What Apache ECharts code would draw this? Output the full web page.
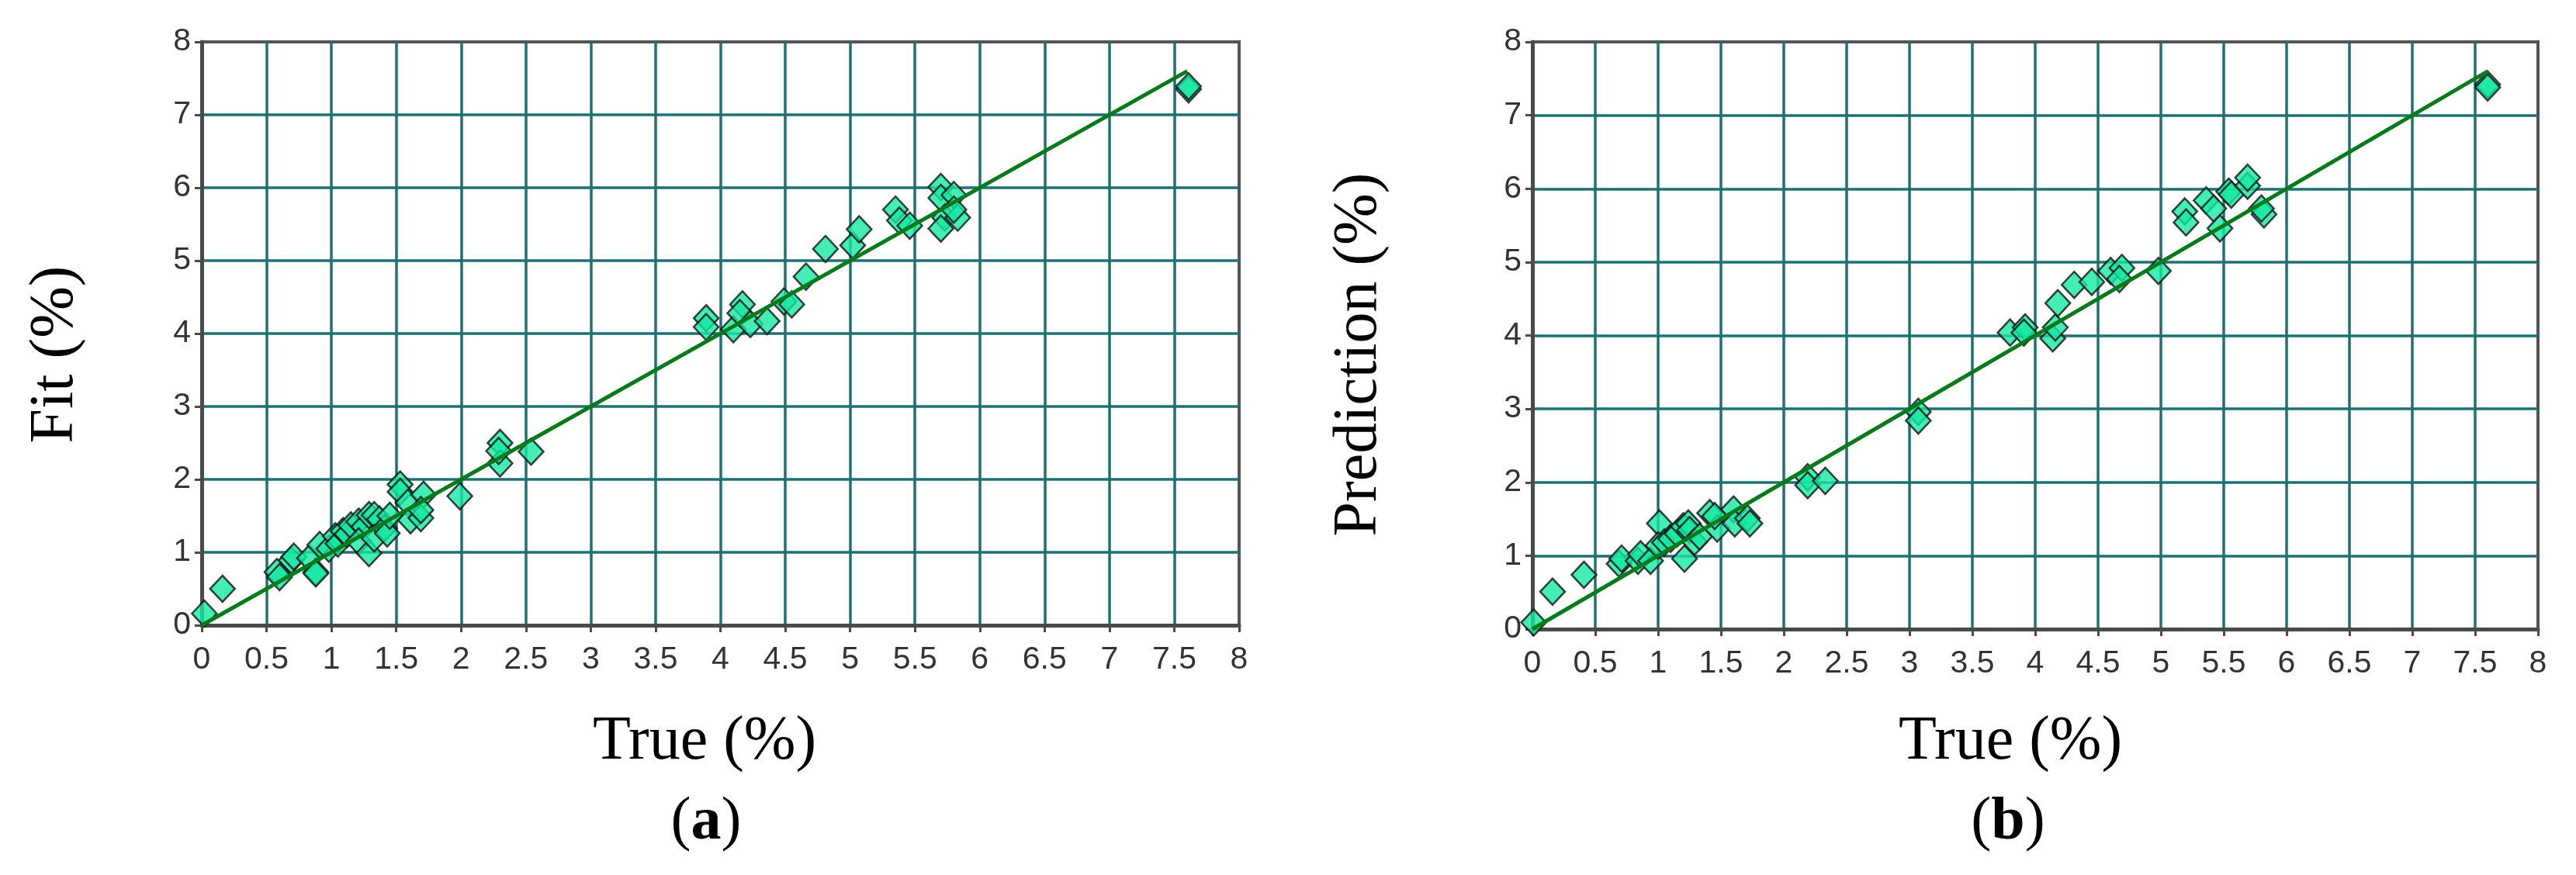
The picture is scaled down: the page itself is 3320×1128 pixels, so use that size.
<!DOCTYPE html>
<html>
<head>
<meta charset="utf-8">
<script src="https://cdn.jsdelivr.net/npm/echarts@6/dist/echarts.min.js"></script>
<style>
  html, body { margin: 0; padding: 0; background: #fff; }
  #main { width: 3320px; height: 1128px; }
</style>
</head>
<body>
<div id="main"></div>
<script>
// (a) calibration: true vs fitted
var aTrue = [0.02, 0.16, 0.58, 0.60, 0.69, 0.71, 0.83, 0.88, 0.88, 0.91, 0.98, 1.03, 1.05, 1.09, 1.12, 1.15, 1.21, 1.25, 1.29, 1.33, 1.37,
	1.21, 1.29, 1.33, 1.41, 1.43, 1.45, 1.53, 1.53, 1.59, 1.61, 1.69, 1.71, 1.69, 1.99, 2.30, 2.30, 2.29, 2.54,
	3.89, 3.89, 4.10, 4.17, 4.15, 4.23, 4.36, 4.49, 4.55, 4.66, 4.81, 5.02, 5.07, 5.35, 5.38, 5.46,
	5.70, 5.70, 5.73, 5.70, 5.80, 5.83, 5.80, 7.61, 7.61];
var aFit = [0.16, 0.50, 0.73, 0.66, 0.89, 0.94, 0.92, 0.73, 0.71, 1.10, 1.05, 1.22, 1.12, 1.29, 1.25, 1.37, 1.42, 1.35, 1.51, 1.51, 1.45,
	1.15, 0.99, 1.19, 1.33, 1.26, 1.50, 1.93, 1.83, 1.68, 1.44, 1.47, 1.79, 1.58, 1.77, 2.50, 2.22, 2.39, 2.38,
	4.21, 4.09, 4.06, 4.40, 4.28, 4.13, 4.17, 4.44, 4.40, 4.78, 5.16, 5.21, 5.43, 5.70, 5.55, 5.48,
	6.01, 5.86, 5.59, 5.44, 5.90, 5.59, 5.70, 7.35, 7.39];
// (b) validation: true vs predicted
var bTrue = [0.01, 0.16, 0.41, 0.69, 0.71, 0.84, 0.86, 0.94, 1.01, 1.00, 1.05, 1.10, 1.15, 1.20, 1.24, 1.25, 1.21, 1.29, 1.33,
	1.41, 1.47, 1.45, 1.60, 1.61, 1.71, 1.73, 2.19, 2.19, 2.33,
	3.07, 3.07, 3.80, 3.92, 3.91, 4.14, 4.16, 4.18, 4.31, 4.45, 4.60, 4.69, 4.67, 4.98,
	5.19, 5.20, 5.36, 5.42, 5.47, 5.54, 5.56, 5.69, 5.69, 5.82, 5.80, 7.60, 7.60];
var bPred = [0.09, 0.51, 0.74, 0.89, 0.96, 0.93, 1.02, 0.93, 1.44, 1.14, 1.18, 1.23, 1.30, 1.40, 1.44, 1.35, 0.96, 1.19, 1.26,
	1.58, 1.37, 1.54, 1.63, 1.44, 1.51, 1.44, 2.07, 1.96, 2.02,
	2.96, 2.84, 4.04, 4.11, 4.04, 3.96, 4.11, 4.44, 4.69, 4.73, 4.88, 4.92, 4.77, 4.88,
	5.69, 5.54, 5.84, 5.73, 5.46, 5.96, 5.92, 6.04, 6.15, 5.65, 5.73, 7.42, 7.38];
// y = x reference line over the data range
var fitLine = [0, 7.6];

function pairs(xs, ys) {
	var out = [];
	for (var i = 0; i < xs.length; i++) out.push([xs[i], ys[i]]);
	return out;
}

var tickFont = "'Liberation Sans Narrow', 'Liberation Sans', Arial, sans-serif";
var titleFont = "'Liberation Serif', 'Times New Roman', serif";

function xAxisOf(gridIndex) {
	return {
		gridIndex: gridIndex,
		type: 'value',
		min: 0, max: 8, interval: 0.5,
		axisLine: { show: true, onZero: false, lineStyle: { color: '#4a4a4a', width: 5 } },
		axisTick: { show: true, length: 9, lineStyle: { color: '#4a4a4a', width: 3 } },
		axisLabel: { margin: 24, color: '#333', fontSize: 41, fontFamily: tickFont },
		splitLine: { show: true, showMinLine: false, showMaxLine: false, lineStyle: { color: '#1f7070', width: 3.5 } }
	};
}
function yAxisOf(gridIndex) {
	return {
		gridIndex: gridIndex,
		type: 'value',
		min: 0, max: 8, interval: 1,
		axisLine: { show: true, onZero: false, lineStyle: { color: '#4a4a4a', width: 5 } },
		axisTick: { show: true, length: 9, lineStyle: { color: '#4a4a4a', width: 3 } },
		axisLabel: { margin: 14, color: '#333', fontSize: 41, fontFamily: tickFont },
		splitLine: { show: true, showMinLine: false, showMaxLine: false, lineStyle: { color: '#1f7070', width: 3.5 } }
	};
}

var pointStyle = {
	color: '#14e8a2',
	borderColor: '#111',
	borderWidth: 2.5
};
var lineStyle = { color: '#057a1a', width: 5 };

var myChart = echarts.init(document.getElementById('main'));
var option = {
	backgroundColor: '#ffffff',
	animation: false,
	grid: [
		{ left: 260, top: 54, width: 1337, height: 752, show: true, borderColor: '#555', borderWidth: 4 },
		{ left: 1975, top: 54, width: 1296, height: 757, show: true, borderColor: '#555', borderWidth: 4 }
	],
	xAxis: [xAxisOf(0), xAxisOf(1)],
	yAxis: [yAxisOf(0), yAxisOf(1)],
	graphic: [
		{ type: 'text', x: 72, y: 457, rotation: Math.PI / 2,
			style: { text: 'Fit (%)', font: '80px ' + titleFont, fill: '#000', align: 'center', verticalAlign: 'middle' } },
		{ type: 'text', x: 908, y: 957,
			style: { text: 'True (%)', font: '80px ' + titleFont, fill: '#000', align: 'center', verticalAlign: 'middle' } },
		{ type: 'text', x: 910, y: 1061,
			style: { text: '({b|a})', font: '78px ' + titleFont, fill: '#000', align: 'center', verticalAlign: 'middle',
				rich: { b: { fontWeight: 'bold', fontSize: 78, fontFamily: titleFont, fill: '#000' } } } },
		{ type: 'text', x: 1752, y: 457, rotation: Math.PI / 2,
			style: { text: 'Prediction (%)', font: '80px ' + titleFont, fill: '#000', align: 'center', verticalAlign: 'middle' } },
		{ type: 'text', x: 2591, y: 957,
			style: { text: 'True (%)', font: '80px ' + titleFont, fill: '#000', align: 'center', verticalAlign: 'middle' } },
		{ type: 'text', x: 2588, y: 1061,
			style: { text: '({b|b})', font: '78px ' + titleFont, fill: '#000', align: 'center', verticalAlign: 'middle',
				rich: { b: { fontWeight: 'bold', fontSize: 78, fontFamily: titleFont, fill: '#000' } } } }
	],
	series: [
		{
			name: 'Fit', type: 'scatter', xAxisIndex: 0, yAxisIndex: 0,
			symbol: 'diamond', symbolSize: [32, 34], itemStyle: pointStyle,
			data: pairs(aTrue, aFit), z: 2
		},
		{
			name: 'Fit line', type: 'line', xAxisIndex: 0, yAxisIndex: 0,
			showSymbol: false, lineStyle: lineStyle, z: 3,
			data: pairs(fitLine, fitLine)
		},
		{
			name: 'Prediction', type: 'scatter', xAxisIndex: 1, yAxisIndex: 1,
			symbol: 'diamond', symbolSize: [32, 34], itemStyle: pointStyle,
			data: pairs(bTrue, bPred), z: 2
		},
		{
			name: 'Prediction line', type: 'line', xAxisIndex: 1, yAxisIndex: 1,
			showSymbol: false, lineStyle: lineStyle, z: 3,
			data: pairs(fitLine, fitLine)
		}
	]
};
myChart.setOption(option);
</script>
</body>
</html>
